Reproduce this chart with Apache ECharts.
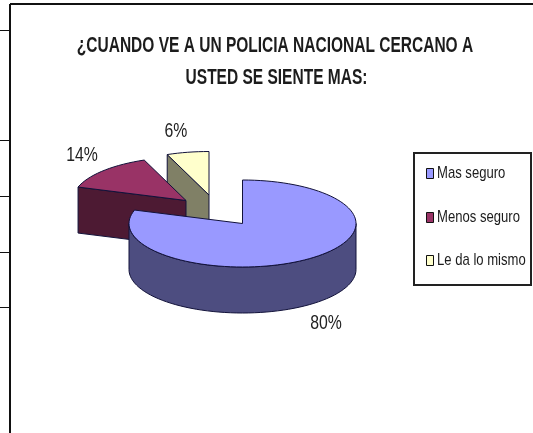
<!DOCTYPE html>
<html><head><meta charset="utf-8">
<style>html,body{margin:0;padding:0;background:#fff}#c{width:533px;height:433px}</style>
<script src="https://cdn.jsdelivr.net/npm/echarts@6/dist/echarts.min.js"></script>
</head><body><div id="c"></div>
<script>
const categories = ['Mas seguro', 'Menos seguro', 'Le da lo mismo'];
const values = [80, 14, 6];
const topColors = ['#9999FF', '#993366', '#FFFFCC'];
const sideColors = ['#4D4D80', '#4D1A33', '#808066'];
const titleLines = ['¿CUANDO VE A UN POLICIA NACIONAL CERCANO A', 'USTED SE SIENTE MAS:'];

// Drawing layout (pseudo-3D projection of the exploded pie)
const RX = 113.5, RY = 43.5, DEPTH = 46;
const apexes = [[242.5, 223.5], [186, 200.5], [209, 195]];
const labelAt = [[326, 323], [82, 155], [176, 131]];
const FONT = '"Liberation Sans",sans-serif';
const OUTLINE = '#12123a';

const total = values.reduce((a, b) => a + b, 0);
function angleRange(i) {
  let before = 0;
  for (let k = 0; k < i; k++) before += values[k];
  return [before / total * 360, (before + values[i]) / total * 360];
}
function arc(cx, cy, a0, a1) {
  const pts = [], n = Math.max(2, Math.ceil((a1 - a0) / 3));
  for (let k = 0; k <= n; k++) {
    const a = (a0 + (a1 - a0) * k / n) * Math.PI / 180;
    pts.push([cx + RX * Math.sin(a), cy - RY * Math.cos(a)]);
  }
  return pts;
}
function poly(points, fill) {
  return { type: 'polygon', shape: { points }, style: { fill, stroke: OUTLINE, lineWidth: 1 } };
}
function makeRender(i) {
  return function () {
    const [a0, a1] = angleRange(i);
    const [cx, cy] = apexes[i];
    const side = sideColors[i], children = [];
    const edge = (a) => {
      const p = arc(cx, cy, a, a)[0];
      return [[cx, cy], p, [p[0], p[1] + DEPTH], [cx, cy + DEPTH]];
    };
    if (Math.sin(a0 * Math.PI / 180) < -1e-6) children.push(poly(edge(a0), side));
    if (Math.sin(a1 * Math.PI / 180) > 1e-6) children.push(poly(edge(a1), side));
    const w0 = Math.max(a0, 90), w1 = Math.min(a1, 270);
    if (w1 > w0) {
      const upper = arc(cx, cy, w0, w1);
      const lower = upper.map(p => [p[0], p[1] + DEPTH]).reverse();
      children.push(poly(upper.concat(lower), side));
    }
    children.push(poly([[cx, cy]].concat(arc(cx, cy, a0, a1)), topColors[i]));
    children.push({
      type: 'text', x: labelAt[i][0], y: labelAt[i][1], scaleX: 0.79,
      style: { text: values[i] + '%', fill: '#222', font: '20px ' + FONT, align: 'center', verticalAlign: 'middle' }
    });
    return { type: 'group', children };
  };
}
function line(x1, y1, x2, y2, w) {
  return { type: 'line', shape: { x1, y1, x2, y2 }, style: { stroke: '#111', lineWidth: w || 1 }, silent: true };
}
function label(text, x, y, font, scaleX, align) {
  return { type: 'text', x, y, scaleX, silent: true,
    style: { text, fill: '#1c1c1c', font: font + ' ' + FONT, align, verticalAlign: 'middle' } };
}
const legendRows = [173.5, 217, 260];
const legendGraphics = [{ type: 'rect', shape: { x: 414, y: 153, width: 117, height: 132 },
  style: { fill: '#fff', stroke: '#222', lineWidth: 2 }, silent: true }];
categories.forEach((name, i) => {
  legendGraphics.push({ type: 'rect', shape: { x: 426.5, y: Math.floor(legendRows[i]) - 4.5, width: 7, height: 10 },
    style: { fill: topColors[i], stroke: '#111', lineWidth: 1 }, silent: true });
  legendGraphics.push(label(name, 437, legendRows[i], '17px', 0.77, 'left'));
});
const chart = echarts.init(document.getElementById('c'), null, { renderer: 'canvas' });
chart.setOption({
  animation: false,
  backgroundColor: '#fff',
  graphic: [
    line(10, 4, 533, 4, 2), line(10, 4, 10, 433, 2),
    line(0, 30.5, 10, 30.5), line(0, 140.5, 10, 140.5), line(0, 196.5, 10, 196.5),
    line(0, 252.5, 10, 252.5), line(0, 307.5, 10, 307.5),
    label(titleLines[0], 275, 46, 'bold 22px', 0.705, 'center'),
    label(titleLines[1], 276.5, 78, 'bold 22px', 0.705, 'center')
  ].concat(legendGraphics),
  series: categories.map((name, i) => ({
    type: 'custom', name, coordinateSystem: 'none', z: 10 - i,
    silent: true, itemStyle: { color: topColors[i] },
    data: [[values[i]]], renderItem: makeRender(i)
  }))
});
</script></body></html>
